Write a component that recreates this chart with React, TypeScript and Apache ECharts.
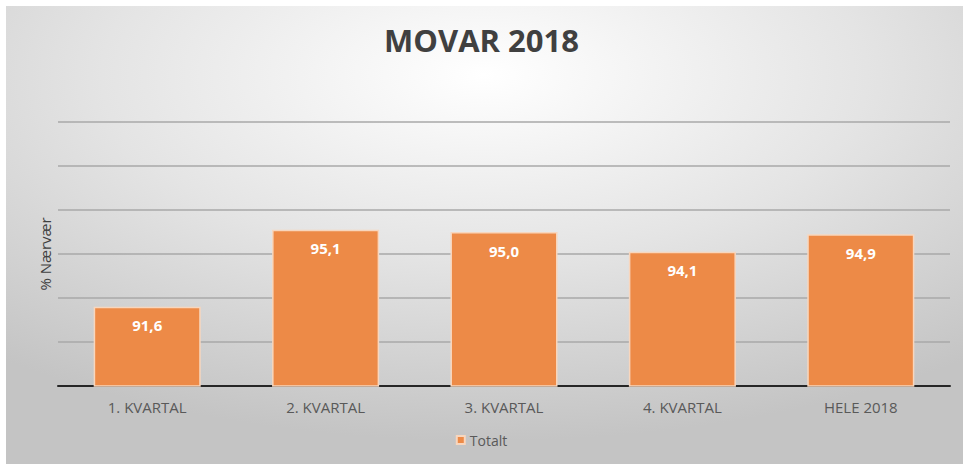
import React, { useEffect, useRef } from "react";
import * as echarts from "echarts";

const categories = ["1. KVARTAL", "2. KVARTAL", "3. KVARTAL", "4. KVARTAL", "HELE 2018"];
const totalt = [91.6, 95.1, 95.0, 94.1, 94.9];
const seriesName = "Totalt";
const titleText = "MOVAR 2018";
const yAxisName = "% Nærvær";

export default function App() {
  const ref = useRef<HTMLDivElement>(null);
  useEffect(() => {
    if (!ref.current) return;
    const chart = echarts.init(ref.current, null, { renderer: "svg" });
    chart.setOption({
      animation: false,
      backgroundColor: "#ffffff",
      graphic: [
        {
          type: "rect",
          z: -10,
          silent: true,
          shape: { x: 6, y: 6, width: 957, height: 458 },
          style: {
            fill: new echarts.graphic.RadialGradient(0.5, 0.15, 0.8, [
              { offset: 0, color: "#ffffff" },
              { offset: 0.5, color: "#e4e4e4" },
              { offset: 1, color: "#c4c4c4" },
            ]),
          },
        },
      ],
      title: {
        text: titleText,
        left: "center",
        top: 19,
        textStyle: {
          fontFamily: "Open Sans",
          fontWeight: "bold",
          fontSize: 31,
          color: "#404040",
        },
      },
      legend: {
        data: [seriesName],
        bottom: 14,
        left: "center",
        itemWidth: 8,
        itemHeight: 8,
        itemGap: 6,
        icon: "rect",
        textStyle: { fontFamily: "Open Sans", fontSize: 14, color: "#595959" },
      },
      grid: { left: 58, right: 13, top: 122, bottom: 80, containLabel: false },
      xAxis: {
        type: "category",
        data: categories,
        axisTick: { show: false },
        axisLine: { lineStyle: { color: "#262626", width: 2 } },
        axisLabel: {
          fontFamily: "Open Sans",
          fontSize: 15,
          color: "#595959",
          margin: 13,
        },
      },
      yAxis: {
        type: "value",
        min: 88,
        max: 100,
        interval: 2,
        name: yAxisName,
        nameLocation: "middle",
        nameGap: 6,
        nameTextStyle: { fontFamily: "Open Sans", fontSize: 15, color: "#404040" },
        axisLabel: { show: false },
        axisLine: { show: false },
        axisTick: { show: false },
        splitLine: { lineStyle: { color: "#a8a8a8", width: 1.5 } },
      },
      series: [
        {
          name: seriesName,
          type: "bar",
          data: totalt,
          barWidth: "60%",
          itemStyle: { color: "#ED8A47", borderColor: "#f8d6bd", borderWidth: 1.5 },
          label: {
            show: true,
            position: "insideTop",
            distance: 11,
            color: "#ffffff",
            fontFamily: "Open Sans",
            fontWeight: "bold",
            fontSize: 15,
            formatter: (p: any) => p.value.toFixed(1).replace(".", ","),
          },
        },
      ],
    });
    return () => chart.dispose();
  }, []);
  return (
    <div
      ref={ref}
      style={{ position: "absolute", left: 0, top: 0, width: 963, height: 466 }}
    />
  );
}
